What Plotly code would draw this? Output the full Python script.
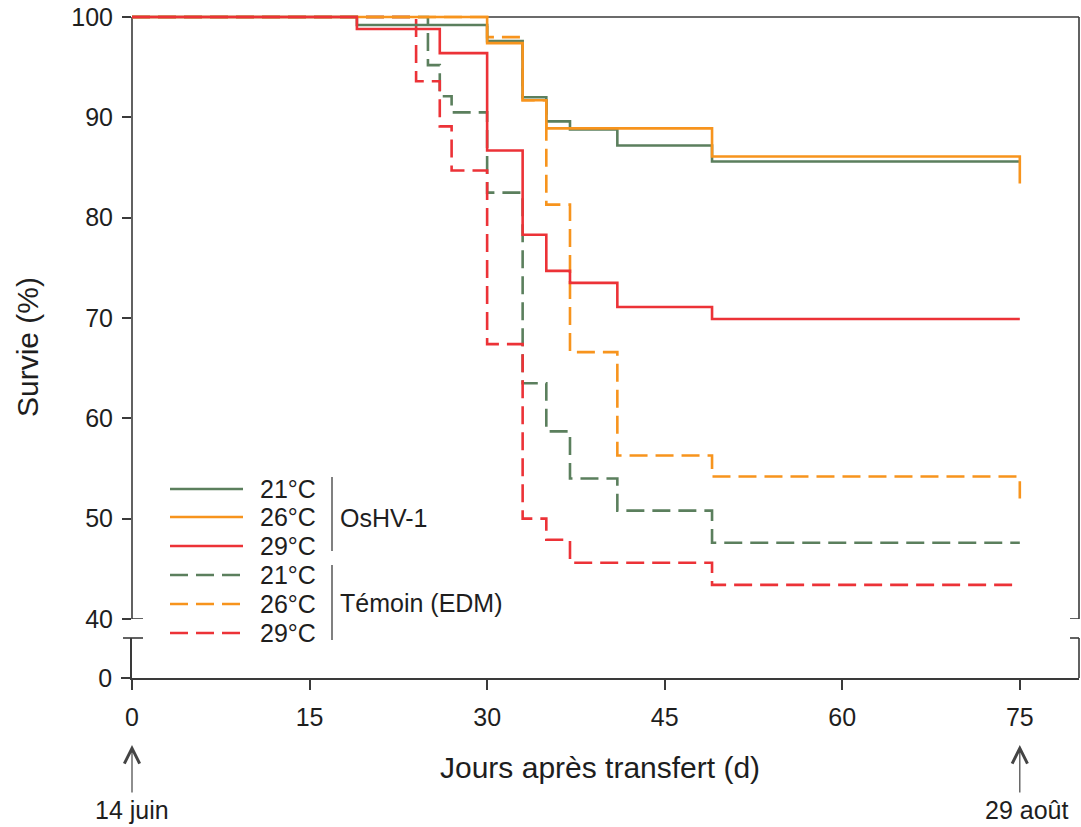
import plotly.graph_objects as go

# ---- data ----
green_solid_days = [0, 19, 30, 33, 35, 37, 41, 49, 75]
green_solid_surv = [100, 99.2, 97.6, 92.0, 89.6, 88.8, 87.2, 85.6, 85.6]

orange_solid_days = [0, 30, 33, 35, 49, 75]
orange_solid_surv = [100, 97.4, 91.7, 88.9, 86.1, 83.4]

red_solid_days = [0, 19, 26, 30, 33, 35, 37, 41, 49, 75]
red_solid_surv = [100, 98.8, 96.4, 86.7, 78.3, 74.7, 73.5, 71.1, 69.9, 69.9]

green_dash_days = [0, 25, 26, 27, 30, 33, 35, 37, 41, 49, 75]
green_dash_surv = [100, 95.2, 92.1, 90.5, 82.5, 63.5, 58.7, 54.0, 50.8, 47.6, 47.6]

orange_dash_days = [0, 30, 33, 35, 37, 41, 49, 75]
orange_dash_surv = [100, 98.0, 91.7, 81.3, 66.6, 56.3, 54.2, 52.0]

red_dash_days = [0, 24, 26, 27, 30, 33, 35, 37, 49, 75]
red_dash_surv = [100, 93.6, 89.1, 84.7, 67.4, 50.0, 47.9, 45.6, 43.4, 43.4]

temp_labels = ["21°C", "26°C", "29°C"]
group_labels = ["OsHV-1", "Témoin (EDM)"]
x_ticks = [0, 15, 30, 45, 60, 75]
y_ticks = [40, 50, 60, 70, 80, 90, 100]

GREEN = "#5b7f5d"
ORANGE = "#f7941d"
RED = "#ec3237"
AX = "#3a3a3a"
TXT = "#1e1e1e"
FONT = "Liberation Sans, Arial, sans-serif"
DASH = "18px,8px"
LW = 2.6

fig = go.Figure()

# empty trace so that the lower (broken) y-axis subplot exists
fig.add_trace(go.Scatter(x=[], y=[], mode="lines", showlegend=False, hoverinfo="skip", xaxis="x", yaxis="y2"))

series = [
    (green_dash_days, green_dash_surv, GREEN, DASH),
    (orange_dash_days, orange_dash_surv, ORANGE, DASH),
    (red_dash_days, red_dash_surv, RED, DASH),
    (green_solid_days, green_solid_surv, GREEN, "solid"),
    (orange_solid_days, orange_solid_surv, ORANGE, "solid"),
    (red_solid_days, red_solid_surv, RED, "solid"),
]
for d, s, c, dash in series:
    fig.add_trace(go.Scatter(x=d, y=s, mode="lines", line=dict(color=c, width=LW, dash=dash, shape="hv"),
                             showlegend=False, hoverinfo="skip", xaxis="x", yaxis="y"))

W, H = 1081, 827
ML, MR, MT, MB = 132, 2, 13, 149
PW = W - ML - MR
PH = H - MT - MB


def py(p):
    return (H - MB - p) / PH


def px(p):
    return (p - ML) / PW


fig.update_layout(
    width=W, height=H,
    margin=dict(l=ML, r=MR, t=MT, b=MB),
    paper_bgcolor="white", plot_bgcolor="white",
    font=dict(family=FONT, size=25, color=TXT),
    xaxis=dict(range=[0, 80], anchor="y2", tickvals=x_ticks, ticks="outside", ticklen=10, tickwidth=1.6,
               tickcolor=AX, showline=True, linecolor=AX, linewidth=1.6, showgrid=False, zeroline=False,
               tickfont=dict(size=25, color=TXT), ticklabelstandoff=6),
    yaxis=dict(domain=[py(619), 1], range=[40, 100.4], tickvals=y_ticks, ticks="outside", ticklen=9,
               tickwidth=1.6, tickcolor=AX, showline=False, showgrid=False, zeroline=False, anchor="x",
               tickfont=dict(size=25, color=TXT), ticklabelstandoff=4),
    yaxis2=dict(domain=[0, py(638)], range=[0, 4], tickvals=[0], ticks="outside", ticklen=9, tickwidth=1.6,
                tickcolor=AX, showline=True, linecolor=AX, linewidth=1.6, showgrid=False, zeroline=False,
                anchor="x", tickfont=dict(size=25, color=TXT), ticklabelstandoff=4),
)

shapes = []
bl = dict(color=AX, width=1.6)
# box borders (upper panel)
shapes.append(dict(type="line", xref="paper", yref="y", x0=0, x1=0, y0=40, y1=100, line=bl, layer="below"))
shapes.append(dict(type="line", xref="paper", yref="y", x0=1, x1=1, y0=40, y1=100, line=bl, layer="below"))
shapes.append(dict(type="line", xref="paper", yref="y", x0=0, x1=1, y0=100, y1=100, line=bl, layer="below"))
shapes.append(dict(type="line", xref="paper", yref="y2 domain", x0=1, x1=1, y0=0, y1=1, line=bl, layer="below"))
# axis-break caps
shapes.append(dict(type="line", xref="paper", yref="y", x0=0, x1=px(143), y0=40, y1=40, line=bl))
shapes.append(dict(type="line", xref="paper", yref="y2 domain", x0=px(123), x1=px(143), y0=1, y1=1, line=bl))
shapes.append(dict(type="line", xref="paper", yref="y", x0=px(1070), x1=1, y0=40, y1=40, line=bl))
shapes.append(dict(type="line", xref="paper", yref="y2 domain", x0=px(1070), x1=1, y0=1, y1=1, line=bl))

annotations = []
# custom legend
leg_rows = [489, 517, 546, 575, 604, 633]
leg_styles = [(GREEN, "solid"), (ORANGE, "solid"), (RED, "solid"), (GREEN, DASH), (ORANGE, DASH), (RED, DASH)]
for i, (row, (c, dash)) in enumerate(zip(leg_rows, leg_styles)):
    shapes.append(dict(type="line", xref="paper", yref="paper", x0=px(170), x1=px(243), y0=py(row), y1=py(row),
                       line=dict(color=c, width=LW, dash=dash)))
    annotations.append(dict(xref="paper", yref="paper", x=px(258), y=py(row), text=temp_labels[i % 3],
                            showarrow=False, xanchor="left", yanchor="middle", font=dict(size=25, color=TXT)))
sep = dict(color="#4a4a4a", width=1.4)
shapes.append(dict(type="line", xref="paper", yref="paper", x0=px(332), x1=px(332), y0=py(477), y1=py(551), line=sep))
shapes.append(dict(type="line", xref="paper", yref="paper", x0=px(332), x1=px(332), y0=py(565), y1=py(640), line=sep))
annotations.append(dict(xref="paper", yref="paper", x=px(338), y=py(518), text=group_labels[0], showarrow=False,
                        xanchor="left", yanchor="middle", font=dict(size=25, color=TXT)))
annotations.append(dict(xref="paper", yref="paper", x=px(338), y=py(603), text=group_labels[1], showarrow=False,
                        xanchor="left", yanchor="middle", font=dict(size=25, color=TXT)))

# axis titles
annotations.append(dict(xref="paper", yref="paper", x=px(27), y=py(347), text="Survie (%)", textangle=-90,
                        showarrow=False, xanchor="center", yanchor="middle", font=dict(size=30, color=TXT)))
annotations.append(dict(xref="paper", yref="paper", x=px(600), y=py(767), text="Jours après transfert (d)",
                        showarrow=False, xanchor="center", yanchor="middle", font=dict(size=30, color=TXT)))

# date arrows
for xv, lab, dx in [(0, "14 juin", 0), (75, "29 août", 7)]:
    annotations.append(dict(xref="x", yref="paper", x=xv, y=py(745), text="", showarrow=True, ax=0, ay=49,
                            arrowhead=5, arrowsize=2.5, arrowwidth=1.2, arrowcolor="#444"))
    annotations.append(dict(xref="x", yref="paper", x=xv, y=py(810), text=lab, showarrow=False, xshift=dx,
                            xanchor="center", yanchor="middle", font=dict(size=25, color=TXT)))

fig.update_layout(shapes=shapes, annotations=annotations)
fig.write_html("out.html")
